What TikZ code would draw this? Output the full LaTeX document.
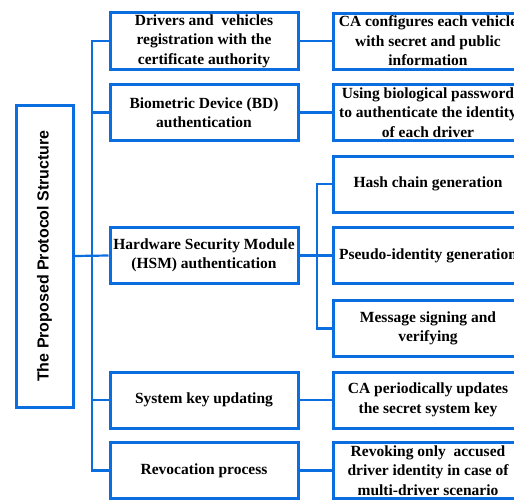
\documentclass[tikz,border=0pt]{standalone}
\usepackage{fontspec}
\setmainfont{Liberation Serif}
\newfontfamily\labelfont{Liberation Sans}
\usetikzlibrary{shadows}
\definecolor{frameblue}{HTML}{0A6EE0}
\tikzset{
  box/.style={draw=frameblue, line width=3pt, fill=white, align=center,
    inner xsep=0pt, inner ysep=2pt, font=\bfseries\fontsize{15.5}{19.5}\selectfont,
    drop shadow={shadow xshift=1.2pt, shadow yshift=-1.5pt, opacity=0.25, fill=black!60}},
  midbox/.style={box, minimum width=188pt, minimum height=56pt},
  subbox/.style={box, minimum width=190pt, minimum height=56pt},
  link/.style={draw=frameblue, line width=2.2pt},
}
\begin{document}
\begin{tikzpicture}[x=1pt, y=-1pt]
\clip (0,0) rectangle (514,499);
\fill[white] (0,0) rectangle (514,499);

% root of the structure
\node[box, minimum width=302pt, minimum height=57pt, rotate=90,
      drop shadow={shadow xshift=-1.5pt, shadow yshift=-1.2pt, opacity=0.25, fill=black!60},
      font=\labelfont\bfseries\fontsize{16}{19}\selectfont] (root) at (44.5,256)
      {The Proposed Protocol Structure};

% main phases
\node[midbox] (reg)  at (204,41)    {Drivers and\ \ vehicles\\registration with the\\certificate authority};
\node[midbox] (bio)  at (204,112.5) {Biometric Device (BD)\\authentication};
\node[midbox] (hsm)  at (204,255.5) {Hardware Security Module\\(HSM) authentication};
\node[midbox] (key)  at (204,400)   {System key updating};
\node[midbox] (rev)  at (204,470.5) {Revocation process};

% details of each phase
\node[subbox] (conf) at (428,41)    {CA configures each vehicle\\with secret and public\\information};
\node[subbox] (pass) at (428,112.5) {Using biological password\\to authenticate the identity\\of each driver};
\node[subbox] (hash) at (428,184)   {Hash chain generation};
\node[subbox] (pid)  at (428,255.5) {Pseudo-identity generation};
\node[subbox] (msg)  at (428,328.5) {Message signing and\\verifying};
\node[subbox] (upd)  at (428,400)   {CA periodically updates\\the secret system key};
\node[subbox] (rvk)  at (428,470.5) {Revoking only\ \ accused\\driver identity in case of\\multi-driver scenario};

% trunk joints
\coordinate (trunk) at (92,256);
\coordinate (hsmtrunk) at (317,256);

\draw[link] (reg.west) -| (trunk) |- (rev.west);
\draw[link] (bio.west) -| (trunk);
\draw[link] (key.west) -| (trunk);
\draw[link] (root.south) -- (hsm.west);

\draw[link] (reg.east) -- (conf.west);
\draw[link] (bio.east) -- (pass.west);
\draw[link] (hsm.east) -- (pid.west);
\draw[link] (key.east) -- (upd.west);
\draw[link] (rev.east) -- (rvk.west);

\draw[link] (hash.west) -| (hsmtrunk) |- (msg.west);
\end{tikzpicture}
\end{document}
